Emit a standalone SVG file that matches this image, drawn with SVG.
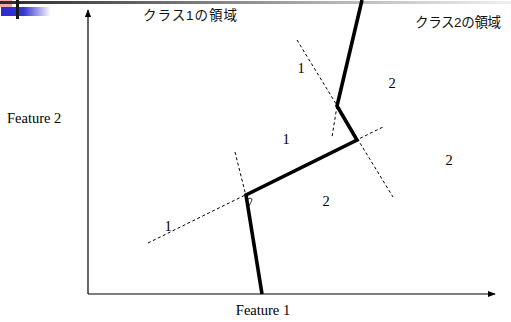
<svg xmlns="http://www.w3.org/2000/svg" width="511" height="322" viewBox="0 0 511 322">
<defs>
<linearGradient id="gBar" x1="0" y1="0" x2="1" y2="0">
<stop offset="0" stop-color="#2a2a2a"/><stop offset="0.7" stop-color="#bdbdbd"/><stop offset="1" stop-color="#f0f0f0"/>
</linearGradient>
<linearGradient id="gBlue" x1="0" y1="0" x2="1" y2="0">
<stop offset="0" stop-color="#2b2bd0"/><stop offset="0.45" stop-color="#3535d0"/><stop offset="1" stop-color="#ffffff"/>
</linearGradient>
<marker id="arr" viewBox="0 0 10 10" refX="9" refY="5" markerWidth="8" markerHeight="8" markerUnits="userSpaceOnUse" orient="auto">
<path d="M0,1 L10,5 L0,9 Z" fill="#000"/>
</marker>
<style>
.axis{stroke:#000;stroke-width:1.2;fill:none}
.dash{stroke:#000;stroke-width:1;stroke-dasharray:3,2.5;fill:none}
.bound{stroke:#000;stroke-width:3.6;fill:none;stroke-linejoin:miter}
.num{font-family:"Liberation Serif",serif;font-size:14.5px;fill:#000}
.jp{font-family:"Liberation Sans","Noto Sans CJK JP",sans-serif;font-size:13.5px;fill:#111}
</style>
</defs>
<g id="decor">
<rect x="0" y="0" width="12" height="7" fill="#f4a8a8"/>
<rect x="0" y="1" width="511" height="3" fill="url(#gBar)"/>
<rect x="1" y="7" width="50" height="9" fill="url(#gBlue)"/>
<rect x="16" y="0" width="3" height="19" fill="#1a1a1a"/>
</g>
<g id="connectors">
<line class="axis" x1="88" y1="294" x2="88" y2="10" marker-end="url(#arr)"/>
<line class="axis" x1="88" y1="294" x2="495" y2="294" marker-end="url(#arr)"/>
<line class="dash" x1="297" y1="40" x2="393" y2="197"/>
<line class="dash" x1="337" y1="106" x2="332" y2="137"/>
<line class="dash" x1="148" y1="243" x2="383" y2="127"/>
<line class="dash" x1="235" y1="152" x2="246" y2="196"/>
<polyline class="bound" points="362,0 337,106 357,140 246,195 262,294"/>
<path d="M248,199 Q252,197 252,200 L249,206" stroke="#000" stroke-width="0.8" fill="none"/>
</g>
<g id="labels">
<text class="num" x="301" y="73" text-anchor="middle">1</text>
<text class="num" x="392" y="88" text-anchor="middle">2</text>
<text class="num" x="286" y="144" text-anchor="middle">1</text>
<text class="num" x="326" y="206" text-anchor="middle">2</text>
<text class="num" x="449" y="165" text-anchor="middle">2</text>
<text class="num" x="168" y="231" text-anchor="middle">1</text>
<text class="num" x="7" y="123">Feature 2</text>
<text class="num" x="263" y="315" text-anchor="middle">Feature 1</text>
<text class="jp" x="143" y="20" textLength="94">クラス1の領域</text>
<text class="jp" x="415" y="27" textLength="86">クラス2の領域</text>
</g>
</svg>
